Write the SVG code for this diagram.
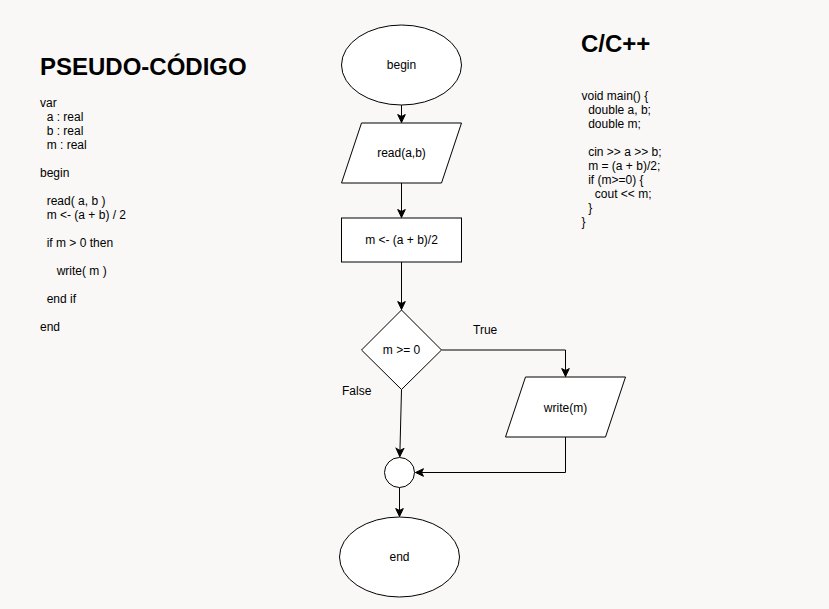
<svg xmlns="http://www.w3.org/2000/svg" width="829" height="609" viewBox="0 0 829 609">
<defs>
<style>
.t{font-family:"Liberation Sans",Arial,Helvetica,sans-serif;font-size:12px;fill:#000}
.c{text-anchor:middle;dominant-baseline:central}
.h{font-family:"Liberation Sans",Arial,Helvetica,sans-serif;font-size:24px;font-weight:bold;fill:#000}
.n{fill:#fff;stroke:#000;stroke-width:1}
.e{fill:none;stroke:#000;stroke-width:1}
</style>
<marker id="arr" markerUnits="userSpaceOnUse" markerWidth="10" markerHeight="10" viewBox="0 0 10 10" refX="9" refY="5" orient="auto">
<path d="M1,1.2 L9,5 L1,8.8 L3,5 z" fill="#000" stroke="#000" stroke-width="1"/>
</marker>
</defs>
<rect width="829" height="609" fill="#f9f8f7"/>

<g id="pseudo">
<text class="h" x="40" y="75">PSEUDO-CÓDIGO</text>
<text class="t" x="40" y="107">var</text>
<text class="t" x="46.7" y="121">a : real</text>
<text class="t" x="46.7" y="135">b : real</text>
<text class="t" x="46.7" y="149">m : real</text>
<text class="t" x="40" y="177">begin</text>
<text class="t" x="46.7" y="205">read( a, b )</text>
<text class="t" x="46.7" y="219">m &lt;- (a + b) / 2</text>
<text class="t" x="46.7" y="247">if m &gt; 0 then</text>
<text class="t" x="56.7" y="275">write( m )</text>
<text class="t" x="46.7" y="303">end if</text>
<text class="t" x="40" y="331">end</text>
</g>

<g id="ccode">
<text class="h" x="581" y="52">C/C++</text>
<text class="t" x="581.5" y="100">void main() {</text>
<text class="t" x="588.2" y="114">double a, b;</text>
<text class="t" x="588.2" y="128">double m;</text>
<text class="t" x="588.2" y="156">cin &gt;&gt; a &gt;&gt; b;</text>
<text class="t" x="588.2" y="170">m = (a + b)/2;</text>
<text class="t" x="588.2" y="184">if (m&gt;=0) {</text>
<text class="t" x="594.8" y="198">cout &lt;&lt; m;</text>
<text class="t" x="588.2" y="212">}</text>
<text class="t" x="581.5" y="226">}</text>
</g>

<g id="connectors">
<path class="e" d="M401.5,105 L401.5,122.5" marker-end="url(#arr)"/>
<path class="e" d="M401.5,183 L401.5,217.5" marker-end="url(#arr)"/>
<path class="e" d="M401.5,262 L401.5,309.5" marker-end="url(#arr)"/>
<path class="e" d="M441.5,350 L565.5,350 L565.5,376.5" marker-end="url(#arr)"/>
<path class="e" d="M401.5,389.5 L399.8,456.5" marker-end="url(#arr)"/>
<path class="e" d="M565.5,437 L565.5,472.5 L415.5,472.5" marker-end="url(#arr)"/>
<path class="e" d="M399.5,487.5 L399.5,516.5" marker-end="url(#arr)"/>
<text class="t" x="473" y="334">True</text>
<text class="t" x="342" y="395">False</text>
</g>

<g id="begin">
<ellipse class="n" cx="401.5" cy="65" rx="60" ry="40"/>
<text class="t c" x="401.5" y="65">begin</text>
</g>
<g id="read">
<path class="n" d="M361.5,123 L461.5,123 L441.5,183 L341.5,183 Z"/>
<text class="t c" x="401.5" y="153">read(a,b)</text>
</g>
<g id="assign">
<rect class="n" x="341.5" y="218" width="120" height="44"/>
<text class="t c" x="401.5" y="240">m &lt;- (a + b)/2</text>
</g>
<g id="decision">
<path class="n" d="M401.5,310 L441.5,350 L401.5,389.5 L361.5,350 Z"/>
<text class="t c" x="401.5" y="350">m &gt;= 0</text>
</g>
<g id="write">
<path class="n" d="M525.5,377 L625.5,377 L605.5,437 L505.5,437 Z"/>
<text class="t c" x="565.5" y="407.5">write(m)</text>
</g>
<g id="join">
<circle class="n" cx="399.5" cy="472.5" r="15"/>
</g>
<g id="end">
<ellipse class="n" cx="399.5" cy="557" rx="60" ry="40"/>
<text class="t c" x="399.5" y="557">end</text>
</g>
</svg>
